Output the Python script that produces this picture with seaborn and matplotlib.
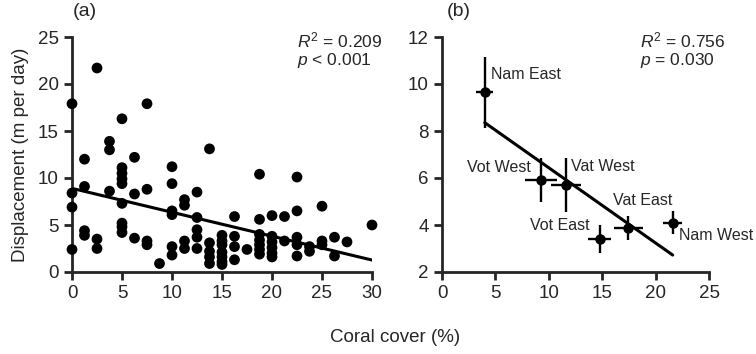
import numpy as np
import pandas as pd
import seaborn as sns
import matplotlib.pyplot as plt

# panel (a): individual fish, coral cover (%) vs displacement (m per day)
cover_a = [0, 0, 0, 0,
           1.25, 1.25, 1.25, 1.25,
           2.5, 2.5, 2.5,
           3.75, 3.75, 3.75,
           5, 5, 5, 5, 5, 5, 5, 5, 5,
           6.25, 6.25, 6.25,
           7.5, 7.5, 7.5, 7.5,
           8.75,
           10, 10, 10, 10, 10, 10,
           11.25, 11.25, 11.25, 11.25,
           12.5, 12.5, 12.5, 12.5, 12.5,
           13.75, 13.75, 13.75, 13.75, 13.75,
           15, 15, 15, 15, 15, 15, 15,
           16.25, 16.25, 16.25, 16.25,
           17.5,
           18.75, 18.75, 18.75, 18.75, 18.75, 18.75, 18.75,
           20, 20, 20, 20, 20, 20,
           21.25, 21.25,
           22.5, 22.5, 22.5, 22.5, 22.5,
           23.75, 23.75,
           25, 25, 25,
           26.25, 26.25,
           27.5,
           30]
disp_a = [17.9, 8.4, 6.9, 2.4,
          12.0, 9.1, 4.4, 3.9,
          21.7, 3.5, 2.5,
          13.9, 13.0, 8.6,
          16.3, 11.1, 10.5, 9.9, 9.4, 7.3, 5.2, 4.8, 4.2,
          12.2, 8.3, 3.6,
          17.9, 8.8, 3.3, 2.9,
          0.9,
          11.2, 9.4, 6.5, 6.1, 2.7, 1.8,
          7.7, 7.1, 3.3, 2.5,
          8.5, 5.8, 4.5, 3.7, 2.5,
          13.1, 3.1, 2.2, 1.6, 0.9,
          3.9, 3.3, 2.9, 2.1, 1.6, 1.1, 0.8,
          5.9, 3.8, 2.7, 1.3,
          2.4,
          10.4, 5.6, 4.0, 3.4, 2.9, 2.4, 1.9,
          6.0, 3.8, 3.2, 2.6, 2.0, 1.6,
          5.9, 3.3,
          10.1, 6.5, 3.7, 2.9, 1.7,
          2.7, 2.2,
          7.0, 3.3, 2.9,
          3.7, 1.7,
          3.2,
          5.0]

# panel (b): site means with SE
sites = ["Nam East", "Vot West", "Vat West", "Vot East", "Vat East", "Nam West"]
cover_b = [4.0, 9.25, 11.6, 14.75, 17.45, 21.6]
cover_b_err = [0.8, 1.5, 1.4, 1.1, 1.35, 0.9]
disp_b = [9.64, 5.92, 5.71, 3.39, 3.88, 4.1]
disp_b_err = [1.5, 0.95, 1.15, 0.6, 0.5, 0.5]

df_a = pd.DataFrame({"cover": cover_a, "disp": disp_a})
df_b = pd.DataFrame({"site": sites, "cover": cover_b, "disp": disp_b})

sns.set_style("ticks")
plt.rcParams["font.family"] = ["Liberation Sans", "DejaVu Sans"]
plt.rcParams["mathtext.fontset"] = "custom"
plt.rcParams["mathtext.rm"] = "Liberation Sans"
plt.rcParams["mathtext.it"] = "Liberation Sans:italic"

fig = plt.figure(figsize=(7.56, 3.54), dpi=100)
ax1 = fig.add_axes([72/756, 1-272/354, 300/756, 235/354])
ax2 = fig.add_axes([442/756, 1-272/354, 267/756, 235/354])

# (a)
sns.regplot(data=df_a, x="cover", y="disp", ax=ax1, ci=None,
            scatter_kws=dict(s=60, color="black", alpha=1, edgecolor="none", clip_on=False, zorder=3),
            line_kws=dict(color="black", lw=2.2))
ax1.set_xlim(0, 30)
ax1.set_ylim(0, 25)
ax1.set_xticks(range(0, 31, 5))
ax1.set_yticks(range(0, 26, 5))
ax1.set_xlabel("")
ax1.set_ylabel("Displacement (m per day)", fontsize=13.5, labelpad=6)

# (b)
ax2.errorbar(df_b["cover"], df_b["disp"], xerr=cover_b_err, yerr=disp_b_err,
             fmt="o", color="black", ms=6.5, elinewidth=1.7, capsize=0, zorder=3)
sns.regplot(data=df_b, x="cover", y="disp", ax=ax2, ci=None, scatter=False,
            line_kws=dict(color="black", lw=2.2))
ax2.set_xlim(0, 25)
ax2.set_ylim(2, 12)
ax2.set_xticks(range(0, 26, 5))
ax2.set_yticks(range(2, 13, 2))
ax2.set_xlabel("")
ax2.set_ylabel("")

label_pos = {"Nam East": (4.55, 10.4, "left"), "Vot West": (8.3, 6.45, "right"),
             "Vat West": (12.05, 6.5, "left"), "Vot East": (13.8, 4.0, "right"),
             "Vat East": (16.0, 5.05, "left"), "Nam West": (22.2, 3.55, "left")}
for s in sites:
    lx, ly, ha = label_pos[s]
    ax2.text(lx, ly, s, ha=ha, va="center", fontsize=11.5, clip_on=False)

for ax in (ax1, ax2):
    sns.despine(ax=ax)
    for sp in ("left", "bottom"):
        ax.spines[sp].set_linewidth(2)
    ax.tick_params(width=2, length=6, labelsize=13.5, direction="out")

fig.text(297/756, 1-31/354, "$R^{\\mathrm{2}}$ = 0.209\n$p$ < 0.001", va="top", ha="left",
         fontsize=12.5, linespacing=1.0)
fig.text(640/756, 1-31/354, "$R^{\\mathrm{2}}$ = 0.756\n$p$ = 0.030", va="top", ha="left",
         fontsize=12.5, linespacing=1.0)
fig.text(73/756, 1-12/354, "(a)", va="center", ha="left", fontsize=14)
fig.text(447/756, 1-12/354, "(b)", va="center", ha="left", fontsize=14)
fig.text(395/756, 1-338/354, "Coral cover (%)", va="center", ha="center", fontsize=13.5)

fig.savefig("out.png", dpi=100)
